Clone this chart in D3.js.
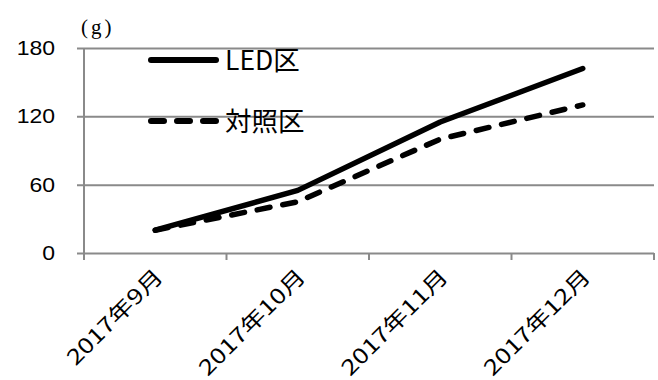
<!DOCTYPE html>
<html>
<head>
<meta charset="utf-8">
<script src="https://cdn.jsdelivr.net/npm/d3@7"></script>
<style>
  html, body { margin: 0; padding: 0; background: #fff; }
  svg { display: block; }
</style>
</head>
<body>
<svg id="chart" width="658" height="380"></svg>
<script>
// Monthly weight (g), LED plot vs. control plot
const months = ["2017年9月", "2017年10月", "2017年11月", "2017年12月"];
const ledValues = [20, 55, 115, 162];
const controlValues = [20, 45, 100, 130];
const yTicks = [0, 60, 120, 180];
const seriesNames = ["LED区", "対照区"];
const unitLabel = "(g)";

const svg = d3.select("#chart");
const margin = { left: 84, right: 4, top: 48, bottom: 127 };
const W = 658, H = 380;

const x = d3.scaleBand()
  .domain(months)
  .range([margin.left, W - margin.right])
  .paddingInner(0).paddingOuter(0);

const y = d3.scaleLinear()
  .domain([0, 180])
  .range([H - margin.bottom, margin.top]);

const gridColor = "#8a8a8a";
const latin = "'Liberation Sans', Arial, sans-serif";
const cjk = "'Noto Sans CJK JP', 'Liberation Sans', sans-serif";

// Horizontal gridlines with short outside ticks on the left
const yAxis = d3.axisLeft(y)
  .tickValues(yTicks)
  .tickSize(-(W - margin.right - margin.left))
  .tickSizeOuter(0)
  .tickPadding(22)
  .tickFormat(d3.format("d"));

const gy = svg.append("g")
  .attr("transform", `translate(${margin.left},0)`)
  .call(yAxis);
gy.select(".domain").remove();
gy.selectAll(".tick line")
  .attr("x1", -7)
  .attr("stroke", gridColor)
  .attr("stroke-width", 2);
gy.selectAll(".tick text")
  .attr("font-family", latin)
  .attr("font-size", 20)
  .attr("fill", "#000")
  .attr("transform", "scale(1.15,1)")
  .attr("x", -29 / 1.15);

// Vertical axis line
svg.append("line")
  .attr("x1", margin.left).attr("x2", margin.left)
  .attr("y1", y(180)).attr("y2", y(0) + 7)
  .attr("stroke", gridColor).attr("stroke-width", 2);

// Category axis: ticks at band boundaries
const xAxis = d3.axisBottom(x).tickSize(0).tickFormat("");
const gx = svg.append("g")
  .attr("transform", `translate(0,${y(0)})`)
  .call(xAxis);
gx.select(".domain").remove();

const boundaries = months.map(m => x(m)).concat([x(months[months.length - 1]) + x.bandwidth()]);
gx.selectAll("line.bound")
  .data(boundaries.slice(1))
  .join("line")
  .attr("class", "bound")
  .attr("x1", d => d).attr("x2", d => d)
  .attr("y1", 0).attr("y2", 7)
  .attr("stroke", gridColor).attr("stroke-width", 2);

// Rotated month labels
gx.selectAll("text.month")
  .data(months)
  .join("text")
  .attr("class", "month")
  .attr("font-family", cjk)
  .attr("font-size", 21)
  .attr("fill", "#000")
  .attr("text-anchor", "end")
  .attr("transform", d => `translate(${x(d) + x.bandwidth() / 2 + 9},${25}) rotate(-45) scale(1.25,1)`)
  .text(d => d);

// Unit label
svg.append("text")
  .attr("x", 81).attr("y", 34)
  .attr("font-family", "'Liberation Serif', 'DejaVu Serif', serif")
  .attr("font-size", 21)
  .attr("letter-spacing", 3)
  .attr("fill", "#000")
  .text(unitLabel);

// Series lines
const cx = m => x(m) + x.bandwidth() / 2;
const lineGen = d3.line()
  .x((d, i) => cx(months[i]))
  .y(d => y(d));

svg.append("path")
  .datum(controlValues)
  .attr("d", lineGen)
  .attr("fill", "none")
  .attr("stroke", "#000")
  .attr("stroke-width", 5.5)
  .attr("stroke-linecap", "round")
  .attr("stroke-linejoin", "round")
  .attr("stroke-dasharray", "13,13");

svg.append("path")
  .datum(ledValues)
  .attr("d", lineGen)
  .attr("fill", "none")
  .attr("stroke", "#000")
  .attr("stroke-width", 5.5)
  .attr("stroke-linecap", "round")
  .attr("stroke-linejoin", "round");

// Legend
const legend = svg.append("g");
const legendRows = [
  { name: seriesNames[0], dash: null, yPos: 60 },
  { name: seriesNames[1], dash: "13,13", yPos: 121 }
];
legendRows.forEach(r => {
  legend.append("line")
    .attr("x1", 151).attr("x2", 216)
    .attr("y1", r.yPos).attr("y2", r.yPos)
    .attr("stroke", "#000")
    .attr("stroke-width", 6)
    .attr("stroke-linecap", "round")
    .attr("stroke-dasharray", r.dash);
  legend.append("text")
    .attr("x", 225).attr("y", r.yPos)
    .attr("dy", "0.36em")
    .attr("font-family", cjk)
    .attr("font-size", 26.5)
    .attr("fill", "#000")
    .text(r.name);
});
</script>
</body>
</html>
